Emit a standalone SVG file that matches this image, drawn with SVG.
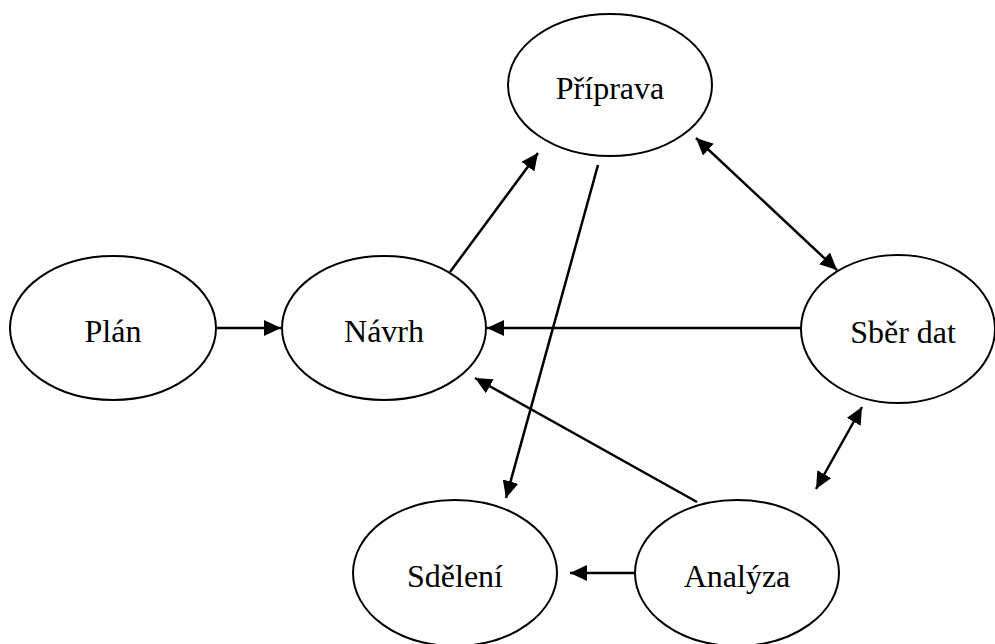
<svg xmlns="http://www.w3.org/2000/svg" width="995" height="644" viewBox="0 0 995 644">
<style>
.n ellipse{fill:#fff;stroke:#000;stroke-width:2}
.n text{font-family:"Liberation Serif","Times New Roman",serif;font-size:32px;text-anchor:middle;fill:#000}
.c line{stroke:#000;stroke-width:2.5;fill:none}
</style>
<defs>
<marker id="a" markerUnits="userSpaceOnUse" markerWidth="17" markerHeight="16" refX="17" refY="8" orient="auto-start-reverse">
<path d="M0,0 L17,8 L0,16 Z" fill="#000"/>
</marker>
</defs>
<rect width="995" height="644" fill="#fff"/>
<g class="n" id="priprava"><ellipse cx="610" cy="85" rx="102" ry="71"/><text x="610" y="99">Příprava</text></g>
<g class="n" id="plan"><ellipse cx="113" cy="328" rx="103" ry="72"/><text x="113" y="342">Plán</text></g>
<g class="n" id="navrh"><ellipse cx="384" cy="328" rx="102" ry="72"/><text x="384" y="342">Návrh</text></g>
<g class="n" id="sber"><ellipse cx="898" cy="329" rx="97" ry="74"/><text x="903" y="343">Sběr dat</text></g>
<g class="n" id="sdeleni"><ellipse cx="455" cy="573" rx="102" ry="73"/><text x="455" y="587">Sdělení</text></g>
<g class="n" id="analyza"><ellipse cx="737" cy="573" rx="102" ry="73"/><text x="737" y="587">Analýza</text></g>
<g class="c" id="connectors">
<line x1="216" y1="328" x2="281" y2="328" marker-end="url(#a)"/>
<line x1="450" y1="272" x2="538" y2="153" marker-end="url(#a)"/>
<line x1="598" y1="165" x2="506" y2="498" marker-end="url(#a)"/>
<line x1="696" y1="138" x2="837" y2="270" marker-start="url(#a)" marker-end="url(#a)"/>
<line x1="801" y1="328" x2="487" y2="328" marker-end="url(#a)"/>
<line x1="697" y1="502" x2="475" y2="378" marker-end="url(#a)"/>
<line x1="635" y1="573" x2="570" y2="573" marker-end="url(#a)"/>
<line x1="862" y1="407" x2="816" y2="489" marker-start="url(#a)" marker-end="url(#a)"/>
</g>
</svg>
